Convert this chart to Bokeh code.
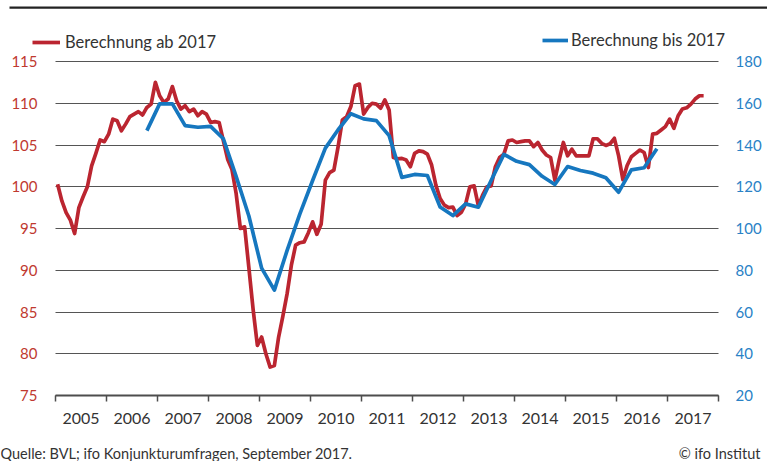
from bokeh.plotting import figure
from bokeh.models import (Range1d, LinearAxis, FixedTicker, CustomJSTickFormatter,
                          Legend, LegendItem, Label, BoxAnnotation)
from bokeh.embed import file_html
from bokeh.resources import INLINE

# ---------------- data ----------------
years = list(range(2005, 2018))          # x tick labels (year centres)
left_ticks = [75, 80, 85, 90, 95, 100, 105, 110, 115]
right_ticks = [20, 40, 60, 80, 100, 120, 140, 160, 180]

# "Berechnung ab 2017" – monthly, Jan 2005 .. Sep 2017 (left axis)
red_start_year = 2005
red_values = [
    100.3, 98.3, 96.9, 96.0, 94.4, 97.5, 98.8, 100.0, 102.5, 104.0, 105.6, 105.4,   # 2005
    106.3, 108.1, 107.9, 106.7, 107.5, 108.4, 108.7, 109.0, 108.6, 109.5, 109.9, 112.5,  # 2006
    110.9, 110.1, 110.5, 112.0, 110.3, 109.3, 109.7, 109.0, 109.3, 108.5, 109.0, 108.7,  # 2007
    107.7, 107.8, 107.7, 105.5, 103.3, 102.1, 99.2, 95.0, 95.2, 90.3, 85.3, 81.0,        # 2008
    82.0, 80.0, 78.4, 78.6, 82.0, 84.5, 87.2, 90.6, 93.0, 93.3, 93.4, 94.5,              # 2009
    95.8, 94.3, 95.5, 100.8, 101.7, 102.0, 104.8, 108.0, 108.4, 109.6, 112.1, 112.3,     # 2010
    108.7, 109.5, 110.0, 109.9, 109.4, 110.4, 109.2, 103.5, 103.35, 103.4, 103.2, 102.4, # 2011
    104.0, 104.3, 104.2, 103.9, 102.6, 100.2, 98.6, 97.8, 97.5, 97.55, 96.55, 96.95,     # 2012
    97.95, 100.0, 100.1, 97.7, 99.0, 100.0, 100.1, 102.4, 103.5, 103.9, 105.5, 105.6,    # 2013
    105.3, 105.4, 105.5, 105.5, 104.8, 105.3, 104.4, 103.8, 103.5, 100.8, 103.2, 105.3,  # 2014
    103.7, 104.5, 103.7, 103.7, 103.7, 103.7, 105.75, 105.75, 105.2, 104.95, 105.15, 105.8,  # 2015
    103.7, 100.85, 102.55, 103.6, 104.0, 104.4, 104.1, 102.3, 106.3, 106.4, 106.8, 107.2,    # 2016
    108.1, 107.0, 108.5, 109.3, 109.45, 109.9, 110.5, 110.9, 110.9,                          # 2017
]

# "Berechnung bis 2017" – quarterly, Q4 2006 .. Q4 2016 (right axis)
blue_start = (2006, 4)
blue_values = [
    146.9,                                  # 2006 Q4
    159.7, 159.7, 149.3, 148.5,             # 2007
    148.9, 143.0, 125.0, 106.0,             # 2008
    81.0, 70.5, 89.5, 107.0,                # 2009
    123.0, 138.5, 147.3, 155.0,             # 2010
    152.5, 151.7, 144.5, 124.5,             # 2011
    125.9, 125.4, 110.3, 106.2,             # 2012
    111.8, 110.2, 123.0, 135.5,             # 2013
    132.2, 130.6, 125.0, 121.1,             # 2014
    129.7, 127.8, 126.5, 124.3,             # 2015
    117.4, 128.1, 129.1, 138.2,             # 2016
]

legend_labels = ["Berechnung ab 2017", "Berechnung bis 2017"]
source_text = "Quelle: BVL; ifo Konjunkturumfragen,  September  2017."
copyright_text = "© ifo Institut"

# ---------------- layout / style ----------------
W, H = 767, 461
PL, PR, PT, PB = 55, 718, 61, 395        # plot box in pixels
FONT = "Lato"
RED = "#bb2530"
BLUE = "#1677bf"
RED_TXT = "#c0392f"
BLUE_TXT = "#2a82c6"
TXT = "#333333"
GRID = "#555555"

x0, x1 = years[0], years[-1] + 1
ppx = (PR - PL) / (x1 - x0)
ly0, ly1 = left_ticks[0], left_ticks[-1]
ppy = (PB - PT) / (ly1 - ly0)
ry0, ry1 = right_ticks[0], right_ticks[-1]
ppr = (PB - PT) / (ry1 - ry0)

def dx(px):
    return x0 + (px - PL) / ppx

def dy(py):
    return ly1 - (py - PT) / ppy

x_range = Range1d(dx(0), dx(W))
y_range = Range1d(dy(H), dy(0))
r_range = Range1d(ry0 - (H - PB) / ppr, ry1 + PT / ppr)

red_x = [red_start_year + (i + 0.5) / 12 for i in range(len(red_values))]
b0 = blue_start[0] + (blue_start[1] - 1) / 4
blue_x = [b0 + q / 4 + 1 / 24 for q in range(len(blue_values))]

p = figure(width=W, height=H, output_backend="svg", toolbar_location=None,
           x_range=x_range, y_range=y_range, min_border=0)
p.extra_y_ranges = {"right": r_range}
p.outline_line_color = None
p.background_fill_color = "white"
p.border_fill_color = "white"

p.xgrid.grid_line_color = None
yg = p.ygrid[0]
yg.ticker = FixedTicker(ticks=left_ticks)
yg.grid_line_color = GRID
yg.grid_line_width = 1
yg.cross_bounds = (x0, x1)

# left axis
ya = p.yaxis[0]
ya.fixed_location = x0
ya.bounds = (ly0, ly1)
ya.ticker = FixedTicker(ticks=left_ticks)
ya.axis_line_color = None
ya.major_tick_line_color = None
ya.minor_tick_line_color = None
ya.major_tick_out = 0
ya.major_tick_in = 0
ya.major_label_standoff = 18
ya.major_label_text_color = RED_TXT
ya.major_label_text_font = FONT
ya.major_label_text_font_size = "15px"

# right axis
ra = LinearAxis(y_range_name="right", ticker=FixedTicker(ticks=right_ticks),
                fixed_location=x1, bounds=(ry0, ry1))
ra.axis_line_color = None
ra.major_tick_line_color = None
ra.minor_tick_line_color = None
ra.major_tick_out = 0
ra.major_tick_in = 0
ra.major_label_standoff = 17
ra.major_label_text_color = BLUE_TXT
ra.major_label_text_font = FONT
ra.major_label_text_font_size = "15px"
p.add_layout(ra, "right")

# bottom axis: labels at year centres, ticks at year boundaries
xa = p.xaxis[0]
xa.fixed_location = ly0
xa.bounds = (x0, x1)
xa.ticker = FixedTicker(ticks=[y + 0.5 for y in years],
                        minor_ticks=years + [x1])
xa.formatter = CustomJSTickFormatter(code="return Math.floor(tick).toString();")
xa.major_tick_line_color = None
xa.major_tick_out = 0
xa.major_tick_in = 0
xa.minor_tick_in = 0
xa.minor_tick_out = 6
xa.minor_tick_line_color = "#4d4d4d"
xa.minor_tick_line_width = 1.5
xa.axis_line_color = "#4d4d4d"
xa.axis_line_width = 2
xa.major_label_standoff = 11
xa.major_label_text_color = TXT
xa.major_label_text_font = FONT
xa.major_label_text_font_size = "16px"

# series
red_r = p.line(red_x, red_values, color=RED, line_width=3.7, line_join="round")
blue_r = p.line(blue_x, blue_values, y_range_name="right", color=BLUE,
                line_width=3.7, line_join="round")

# legends (screen units, measured from bottom-left of the canvas-sized frame)
def legend(label, rend, left_px, center_py, glyph_w, standoff):
    return Legend(items=[LegendItem(label=label, renderers=[rend])],
                  location=(left_px, H - center_py - 10),
                  glyph_width=glyph_w, glyph_height=20, label_height=20,
                  label_standoff=standoff, spacing=0, padding=0, margin=0,
                  border_line_color=None, background_fill_alpha=0,
                  label_text_font=FONT, label_text_font_size="16.5px",
                  label_text_color=TXT)

p.add_layout(legend(legend_labels[0], red_r, 32, 42, 28, 5), "center")
p.add_layout(legend(legend_labels[1], blue_r, 542, 40, 26, 3), "center")

# top rule
p.add_layout(BoxAnnotation(left=dx(9), right=dx(W), top=dy(6), bottom=dy(8.2),
                           fill_color="#222222", fill_alpha=1, line_color=None))

# footer
p.add_layout(Label(x=dx(0), y=dy(453), text=source_text, text_font=FONT,
                   text_font_size="14.5px", text_color=TXT,
                   text_baseline="middle", text_align="left"))
p.add_layout(Label(x=dx(760), y=dy(453), text=copyright_text, text_font=FONT,
                   text_font_size="14.5px", text_color=TXT,
                   text_baseline="middle", text_align="right"))

open("out.html", "w").write(file_html(p, INLINE))
